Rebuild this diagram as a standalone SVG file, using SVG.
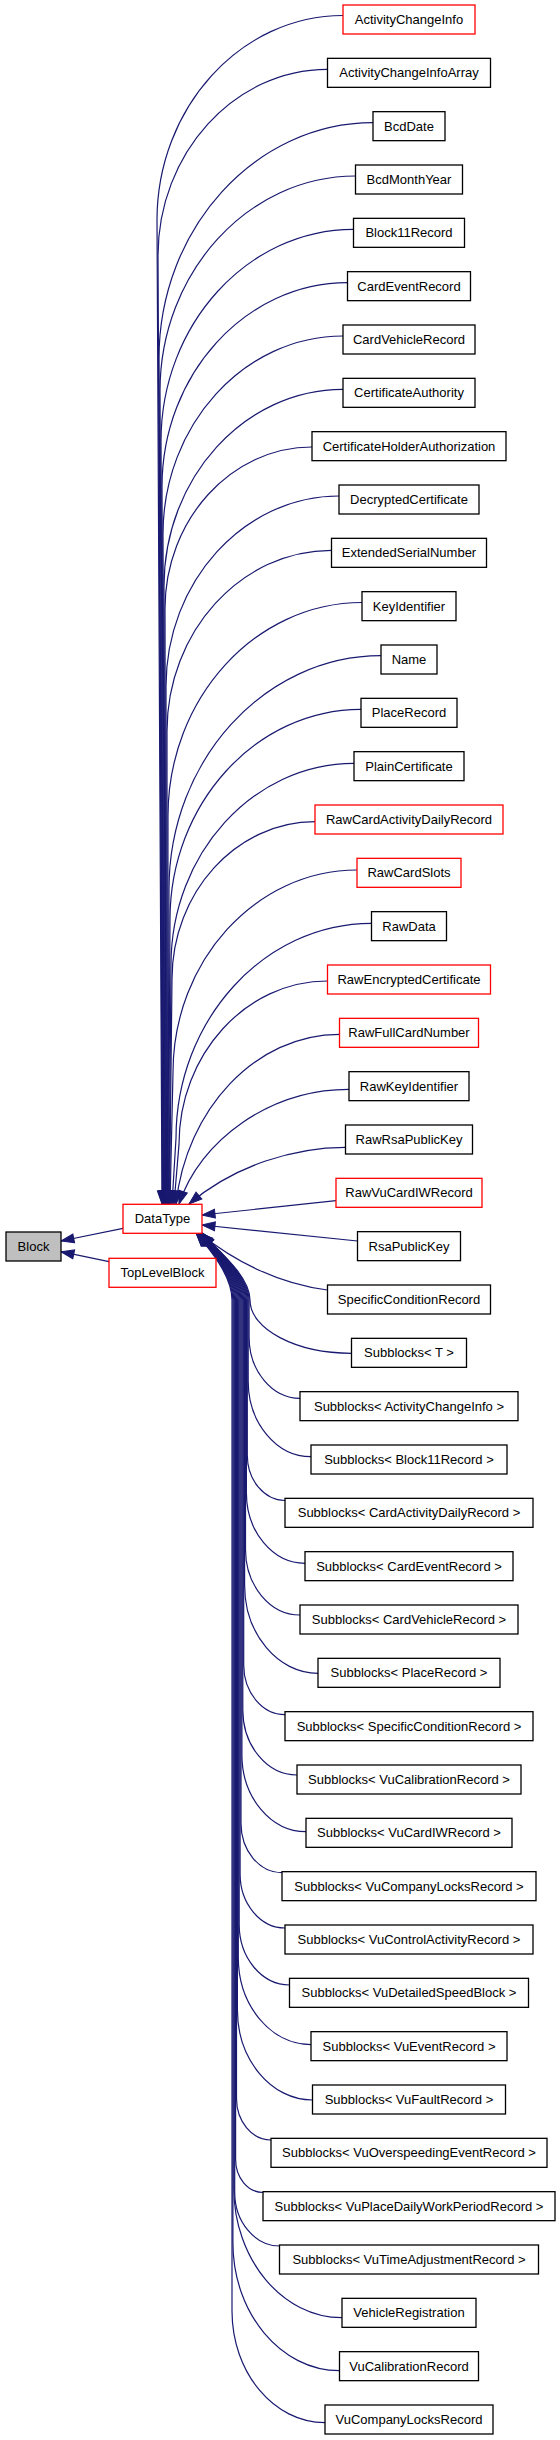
<svg xmlns="http://www.w3.org/2000/svg" width="560" height="2440" viewBox="0 0 560 2440">
<style>
.nd rect{fill:#ffffff;stroke:#000000;stroke-width:1.3}
.nd.red rect{stroke:#ff0000}
.nd.cur rect{fill:#bfbfbf}
.nd text{font-family:"Liberation Sans",Arial,sans-serif;font-size:13px;fill:#000000;text-anchor:middle}
#edges path{fill:none;stroke:#191970;stroke-width:1.2;marker-end:url(#ah)}
</style>
<defs>
<marker id="ah" markerUnits="userSpaceOnUse" markerWidth="15" markerHeight="12" refX="13" refY="5.5" orient="auto" overflow="visible"><path d="M0,1 L13,5.5 L0,10 Z" fill="#191970" stroke="#191970" stroke-width="1"/></marker>
</defs>
<rect x="0" y="0" width="560" height="2440" fill="#ffffff"/>
<g id="edges">
<path d="M123,1228.3 L61,1241"/>
<path d="M109,1261.7 L61,1251.7"/>
<path d="M343,15.5 C240.7,15.5 157,107.6 157,220.1 L162,1204"/>
<path d="M327.5,69.3 C234.3,69.3 158,153.2 158,255.8 L162.5,1204"/>
<path d="M373,122.7 C255.3,122.7 159,228.6 159,358.1 L163,1204"/>
<path d="M355.5,176 C248,176 160,272.8 160,391 L163.5,1204"/>
<path d="M353.5,229.3 C247.6,229.3 161,324.6 161,441.1 L164,1204"/>
<path d="M347.5,282.7 C245.5,282.7 162,374.5 162,486.7 L164.5,1204"/>
<path d="M343,336 C244,336 163,425.1 163,534 L165,1204"/>
<path d="M343,389.3 C244.5,389.3 164,477.9 164,586.2 L165.5,1204"/>
<path d="M312,447 C231.1,447 165,519.8 165,608.7 L166,1204"/>
<path d="M339,496 C243.8,496 166,581.6 166,686.3 L166.5,1204"/>
<path d="M331.5,550.3 C241,550.3 167,631.7 167,731.3 L167,1204"/>
<path d="M362,602.5 C255.3,602.5 168,698.5 168,815.9 L167.5,1204"/>
<path d="M381,655.7 C264.4,655.7 169,760.6 169,888.9 L168,1204"/>
<path d="M361,709.3 C256,709.3 170,803.8 170,919.4 L168.5,1204"/>
<path d="M354,763.3 C253.3,763.3 171,853.9 171,964.6 L169,1204"/>
<path d="M315,821.7 C236.3,821.7 172,892.5 172,979 L169.5,1204"/>
<path d="M357,870 C255.8,870 173,961.1 173,1072.4 L170,1204"/>
<path d="M371.5,923.3 C264,923.3 176,1020.1 176,1138.3 L172,1204"/>
<path d="M327.5,981 C245.8,981 179,1054.5 179,1144.4 L174,1204"/>
<path d="M339.5,1034.3 C255,1034.3 186,1110 176,1204"/>
<path d="M349,1089.3 C270,1089.3 200,1140 179,1204"/>
<path d="M345.5,1147.3 C295,1147.3 235,1165 189,1204"/>
<path d="M336,1200.7 L202,1215"/>
<path d="M357.5,1241 L202,1225"/>
<path d="M327.5,1290 C280,1284 235,1262 200,1233.5"/>
<path d="M351.5,1353.3 C296,1353.3 250,1329.3 250,1300 C250,1275 214,1247 202,1233"/>
<path d="M300,1398.3 C272,1398.3 249.1,1370.8 249.1,1337.2 L249.1,1300 C249.1,1275 213.7,1247 201.7,1233"/>
<path d="M311,1456.7 C276.5,1456.7 248.2,1422.8 248.2,1381.3 L248.2,1300 C248.2,1275 213.4,1247 201.4,1233"/>
<path d="M285,1500.5 C264.3,1500.5 247.3,1480.2 247.3,1455.3 L247.3,1300 C247.3,1275 213.1,1247 201.1,1233"/>
<path d="M305,1563.3 C272.8,1563.3 246.4,1531.7 246.4,1493 L246.4,1300 C246.4,1275 212.8,1247 200.8,1233"/>
<path d="M300,1615 C270,1615 245.5,1585.6 245.5,1549.6 L245.5,1300 C245.5,1275 212.5,1247 200.5,1233"/>
<path d="M318,1673.3 C277.6,1673.3 244.6,1633.7 244.6,1585.2 L244.6,1300 C244.6,1275 212.2,1247 200.2,1233"/>
<path d="M285,1714.7 C262.3,1714.7 243.7,1692.4 243.7,1665.1 L243.7,1300 C243.7,1275 211.9,1247 199.9,1233"/>
<path d="M297,1775 C267.2,1775 242.8,1745.7 242.8,1710 L242.8,1300 C242.8,1275 211.6,1247 199.6,1233"/>
<path d="M306,1831.7 C270.7,1831.7 241.9,1797.1 241.9,1754.8 L241.9,1300 C241.9,1275 211.3,1247 199.3,1233"/>
<path d="M282,1872.7 C259.4,1872.7 241,1850.6 241,1823.5 L241,1300 C241,1275 211,1247 199,1233"/>
<path d="M285,1928 C260.3,1928 240.1,1903.7 240.1,1874.1 L240.1,1300 C240.1,1275 210.7,1247 198.7,1233"/>
<path d="M289.5,1985 C261.8,1985 239.2,1957.8 239.2,1924.6 L239.2,1300 C239.2,1275 210.4,1247 198.4,1233"/>
<path d="M311,2044.7 C271,2044.7 238.3,2005.5 238.3,1957.5 L238.3,1300 C238.3,1275 210.1,1247 198.1,1233"/>
<path d="M312.5,2100 C271.2,2100 237.4,2059.5 237.4,2009.9 L237.4,1300 C237.4,1275 209.8,1247 197.8,1233"/>
<path d="M271,2140 C252,2140 236.5,2121.4 236.5,2098.6 L236.5,1300 C236.5,1275 209.5,1247 197.5,1233"/>
<path d="M263,2192.5 C247.9,2192.5 235.6,2177.7 235.6,2159.6 L235.6,1300 C235.6,1275 209.2,1247 197.2,1233"/>
<path d="M279.5,2246 C254.9,2246 234.7,2221.8 234.7,2192.2 L234.7,1300 C234.7,1275 208.9,1247 196.9,1233"/>
<path d="M342,2317.7 C282.5,2317.7 233.8,2259.3 233.8,2187.9 L233.8,1300 C233.8,1275 208.6,1247 196.6,1233"/>
<path d="M339.5,2370.7 C280.9,2370.7 232.9,2313.1 232.9,2242.8 L232.9,1300 C232.9,1275 208.3,1247 196.3,1233"/>
<path d="M325,2422.7 C273.8,2422.7 232,2372.5 232,2311.1 L232,1300 C232,1275 208,1247 196,1233"/>
</g>
<g id="Block" class="nd cur"><rect x="6" y="1232" width="55" height="29"/><text x="33.5" y="1251">Block</text></g>
<g id="DataType" class="nd red"><rect x="123" y="1204.3" width="79" height="29"/><text x="162.5" y="1223.3">DataType</text></g>
<g id="TopLevelBlock" class="nd red"><rect x="109" y="1258.3" width="107" height="29"/><text x="162.5" y="1277.3">TopLevelBlock</text></g>
<g id="n0" class="nd red"><rect x="343" y="5" width="132" height="29"/><text x="409" y="24">ActivityChangeInfo</text></g>
<g id="n1" class="nd"><rect x="327.5" y="58.33" width="163" height="29"/><text x="409" y="77.33">ActivityChangeInfoArray</text></g>
<g id="n2" class="nd"><rect x="373" y="111.67" width="72" height="29"/><text x="409" y="130.67">BcdDate</text></g>
<g id="n3" class="nd"><rect x="355.5" y="165" width="107" height="29"/><text x="409" y="184">BcdMonthYear</text></g>
<g id="n4" class="nd"><rect x="353.5" y="218.33" width="111" height="29"/><text x="409" y="237.33">Block11Record</text></g>
<g id="n5" class="nd"><rect x="347.5" y="271.67" width="123" height="29"/><text x="409" y="290.67">CardEventRecord</text></g>
<g id="n6" class="nd"><rect x="343" y="325" width="132" height="29"/><text x="409" y="344">CardVehicleRecord</text></g>
<g id="n7" class="nd"><rect x="343" y="378.33" width="132" height="29"/><text x="409" y="397.33">CertificateAuthority</text></g>
<g id="n8" class="nd"><rect x="312" y="431.67" width="194" height="29"/><text x="409" y="450.67">CertificateHolderAuthorization</text></g>
<g id="n9" class="nd"><rect x="339" y="485" width="140" height="29"/><text x="409" y="504">DecryptedCertificate</text></g>
<g id="n10" class="nd"><rect x="331.5" y="538.33" width="155" height="29"/><text x="409" y="557.33">ExtendedSerialNumber</text></g>
<g id="n11" class="nd"><rect x="362" y="591.67" width="94" height="29"/><text x="409" y="610.67">KeyIdentifier</text></g>
<g id="n12" class="nd"><rect x="381" y="645" width="56" height="29"/><text x="409" y="664">Name</text></g>
<g id="n13" class="nd"><rect x="361" y="698.33" width="96" height="29"/><text x="409" y="717.33">PlaceRecord</text></g>
<g id="n14" class="nd"><rect x="354" y="751.67" width="110" height="29"/><text x="409" y="770.67">PlainCertificate</text></g>
<g id="n15" class="nd red"><rect x="315" y="805" width="188" height="29"/><text x="409" y="824">RawCardActivityDailyRecord</text></g>
<g id="n16" class="nd red"><rect x="357" y="858.33" width="104" height="29"/><text x="409" y="877.33">RawCardSlots</text></g>
<g id="n17" class="nd"><rect x="371.5" y="911.67" width="75" height="29"/><text x="409" y="930.67">RawData</text></g>
<g id="n18" class="nd red"><rect x="327.5" y="965" width="163" height="29"/><text x="409" y="984">RawEncryptedCertificate</text></g>
<g id="n19" class="nd red"><rect x="339.5" y="1018.33" width="139" height="29"/><text x="409" y="1037.33">RawFullCardNumber</text></g>
<g id="n20" class="nd"><rect x="349" y="1071.67" width="120" height="29"/><text x="409" y="1090.67">RawKeyIdentifier</text></g>
<g id="n21" class="nd"><rect x="345.5" y="1125" width="127" height="29"/><text x="409" y="1144">RawRsaPublicKey</text></g>
<g id="n22" class="nd red"><rect x="336" y="1178.33" width="146" height="29"/><text x="409" y="1197.33">RawVuCardIWRecord</text></g>
<g id="n23" class="nd"><rect x="357.5" y="1231.67" width="103" height="29"/><text x="409" y="1250.67">RsaPublicKey</text></g>
<g id="n24" class="nd"><rect x="327.5" y="1285" width="163" height="29"/><text x="409" y="1304">SpecificConditionRecord</text></g>
<g id="n25" class="nd"><rect x="351.5" y="1338.33" width="115" height="29"/><text x="409" y="1357.33">Subblocks&lt; T &gt;</text></g>
<g id="n26" class="nd"><rect x="300" y="1391.67" width="218" height="29"/><text x="409" y="1410.67">Subblocks&lt; ActivityChangeInfo &gt;</text></g>
<g id="n27" class="nd"><rect x="311" y="1445" width="196" height="29"/><text x="409" y="1464">Subblocks&lt; Block11Record &gt;</text></g>
<g id="n28" class="nd"><rect x="285" y="1498.33" width="248" height="29"/><text x="409" y="1517.33">Subblocks&lt; CardActivityDailyRecord &gt;</text></g>
<g id="n29" class="nd"><rect x="305" y="1551.67" width="208" height="29"/><text x="409" y="1570.67">Subblocks&lt; CardEventRecord &gt;</text></g>
<g id="n30" class="nd"><rect x="300" y="1605" width="218" height="29"/><text x="409" y="1624">Subblocks&lt; CardVehicleRecord &gt;</text></g>
<g id="n31" class="nd"><rect x="318" y="1658.33" width="182" height="29"/><text x="409" y="1677.33">Subblocks&lt; PlaceRecord &gt;</text></g>
<g id="n32" class="nd"><rect x="285" y="1711.67" width="248" height="29"/><text x="409" y="1730.67">Subblocks&lt; SpecificConditionRecord &gt;</text></g>
<g id="n33" class="nd"><rect x="297" y="1765" width="224" height="29"/><text x="409" y="1784">Subblocks&lt; VuCalibrationRecord &gt;</text></g>
<g id="n34" class="nd"><rect x="306" y="1818.33" width="206" height="29"/><text x="409" y="1837.33">Subblocks&lt; VuCardIWRecord &gt;</text></g>
<g id="n35" class="nd"><rect x="282" y="1871.67" width="254" height="29"/><text x="409" y="1890.67">Subblocks&lt; VuCompanyLocksRecord &gt;</text></g>
<g id="n36" class="nd"><rect x="285" y="1925" width="248" height="29"/><text x="409" y="1944">Subblocks&lt; VuControlActivityRecord &gt;</text></g>
<g id="n37" class="nd"><rect x="289.5" y="1978.33" width="239" height="29"/><text x="409" y="1997.33">Subblocks&lt; VuDetailedSpeedBlock &gt;</text></g>
<g id="n38" class="nd"><rect x="311" y="2031.67" width="196" height="29"/><text x="409" y="2050.67">Subblocks&lt; VuEventRecord &gt;</text></g>
<g id="n39" class="nd"><rect x="312.5" y="2085" width="193" height="29"/><text x="409" y="2104">Subblocks&lt; VuFaultRecord &gt;</text></g>
<g id="n40" class="nd"><rect x="271" y="2138.33" width="276" height="29"/><text x="409" y="2157.33">Subblocks&lt; VuOverspeedingEventRecord &gt;</text></g>
<g id="n41" class="nd"><rect x="263" y="2191.67" width="292" height="29"/><text x="409" y="2210.67">Subblocks&lt; VuPlaceDailyWorkPeriodRecord &gt;</text></g>
<g id="n42" class="nd"><rect x="279.5" y="2245" width="259" height="29"/><text x="409" y="2264">Subblocks&lt; VuTimeAdjustmentRecord &gt;</text></g>
<g id="n43" class="nd"><rect x="342" y="2298.33" width="134" height="29"/><text x="409" y="2317.33">VehicleRegistration</text></g>
<g id="n44" class="nd"><rect x="339.5" y="2351.67" width="139" height="29"/><text x="409" y="2370.67">VuCalibrationRecord</text></g>
<g id="n45" class="nd"><rect x="325" y="2405" width="168" height="29"/><text x="409" y="2424">VuCompanyLocksRecord</text></g>
</svg>
